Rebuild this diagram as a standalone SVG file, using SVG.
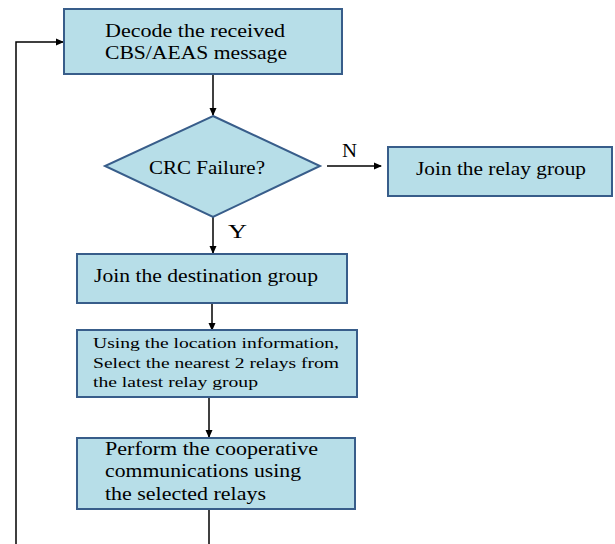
<svg xmlns="http://www.w3.org/2000/svg" width="615" height="544" viewBox="0 0 615 544">
<style>
.box{fill:#B7DEE8;stroke:#385D8A;stroke-width:2}
.t{font-family:"Liberation Serif","Times New Roman",serif;font-size:18px;fill:#000}
.s{font-size:15px}
.c{stroke:#000;stroke-width:1.5;fill:none}
.a{marker-end:url(#ah)}
</style>
<defs>
<marker id="ah" markerWidth="8" markerHeight="8" refX="7" refY="4" orient="auto" markerUnits="userSpaceOnUse">
<path d="M0,0.5 L8,4 L0,7.5 Z" fill="#000"/>
</marker>
</defs>
<rect width="615" height="544" fill="#fff"/>
<g id="connectors">
<line class="c a" x1="213" y1="74" x2="213" y2="115"/>
<line class="c a" x1="327" y1="166" x2="381" y2="166"/>
<line class="c a" x1="213" y1="217" x2="213" y2="253"/>
<line class="c a" x1="212" y1="303" x2="212" y2="330"/>
<line class="c a" x1="209" y1="397" x2="209" y2="437"/>
<line class="c" x1="209" y1="509" x2="209" y2="544"/>
<polyline class="c a" points="16,544 16,42 63,42"/>
<text class="t" x="342" y="157" textLength="15" lengthAdjust="spacingAndGlyphs">N</text>
<text class="t" x="228" y="238" textLength="19" lengthAdjust="spacingAndGlyphs">Y</text>
</g>
<g id="decode">
<rect class="box" x="64" y="9" width="278" height="65"/>
<text class="t" x="105" y="37" textLength="180" lengthAdjust="spacingAndGlyphs">Decode the received</text>
<text class="t" x="105" y="59" textLength="182" lengthAdjust="spacingAndGlyphs">CBS/AEAS  message</text>
</g>
<g id="crc">
<polygon class="box" points="213,116 320,166 213,217 105,166"/>
<text class="t" x="149" y="174" textLength="116" lengthAdjust="spacingAndGlyphs">CRC Failure?</text>
</g>
<g id="relay">
<rect class="box" x="388" y="147" width="224" height="49"/>
<text class="t" x="416" y="175" textLength="170" lengthAdjust="spacingAndGlyphs">Join the relay group</text>
</g>
<g id="destination">
<rect class="box" x="77" y="254" width="270" height="49"/>
<text class="t" x="94" y="282" textLength="224" lengthAdjust="spacingAndGlyphs">Join the destination group</text>
</g>
<g id="select">
<rect class="box" x="77" y="330" width="280" height="67"/>
<text class="t s" x="93" y="348" textLength="246" lengthAdjust="spacingAndGlyphs">Using the location information,</text>
<text class="t s" x="93" y="368" textLength="246" lengthAdjust="spacingAndGlyphs">Select the nearest 2 relays  from</text>
<text class="t s" x="93" y="387" textLength="165" lengthAdjust="spacingAndGlyphs">the latest relay group</text>
</g>
<g id="cooperate">
<rect class="box" x="77" y="438" width="278" height="71"/>
<text class="t" x="105" y="455" textLength="213" lengthAdjust="spacingAndGlyphs">Perform the cooperative</text>
<text class="t" x="105" y="477" textLength="196" lengthAdjust="spacingAndGlyphs">communications using</text>
<text class="t" x="105" y="500" textLength="161" lengthAdjust="spacingAndGlyphs">the selected relays</text>
</g>
</svg>
